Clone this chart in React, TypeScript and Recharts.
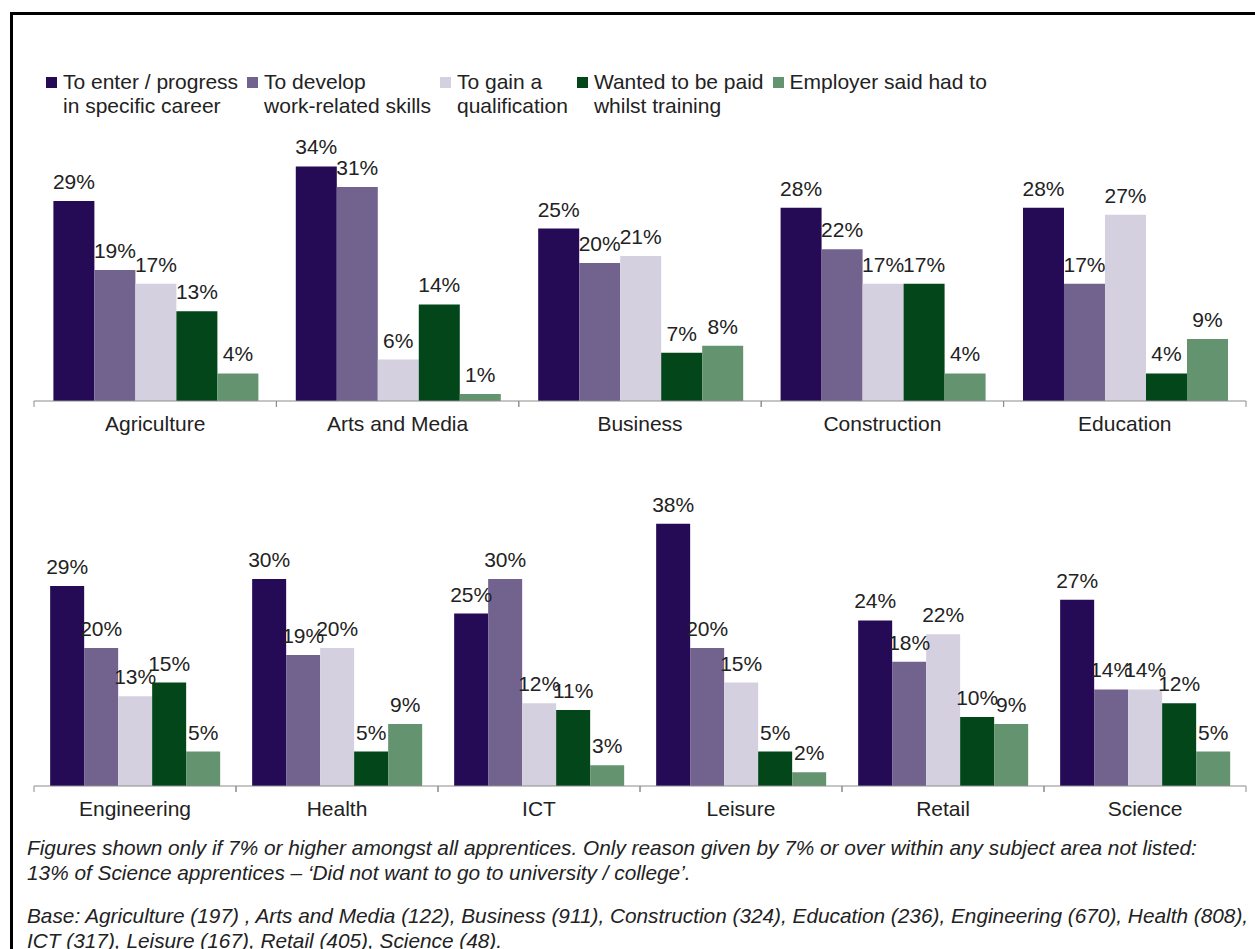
import React from 'react';
import { BarChart, Bar, XAxis, YAxis, LabelList } from 'recharts';

const topCategories = ['Agriculture', 'Arts and Media', 'Business', 'Construction', 'Education'];
const bottomCategories = ['Engineering', 'Health', 'ICT', 'Leisure', 'Retail', 'Science'];

const seriesNames = [
  'To enter / progress\nin specific career',
  'To develop\nwork-related skills',
  'To gain a\nqualification',
  'Wanted to be paid\nwhilst training',
  'Employer said had to',
];
const seriesKeys = ['career', 'skills', 'qualification', 'paid', 'employer'];
const seriesColors = ['#250A55', '#72628E', '#D5D0E0', '#02461A', '#649370'];

const careerTop = [29, 34, 25, 28, 28];
const skillsTop = [19, 31, 20, 22, 17];
const qualificationTop = [17, 6, 21, 17, 27];
const paidTop = [13, 14, 7, 17, 4];
const employerTop = [4, 1, 8, 4, 9];

const careerBottom = [29, 30, 25, 38, 24, 27];
const skillsBottom = [20, 19, 30, 20, 18, 14];
const qualificationBottom = [13, 20, 12, 15, 22, 14];
const paidBottom = [15, 5, 11, 5, 10, 12];
const employerBottom = [5, 9, 3, 2, 9, 5];

const footnoteLines = [
  'Figures shown only if 7% or higher amongst all apprentices. Only reason given by 7% or over within any subject area not listed:',
  '13% of Science apprentices \u2013 \u2018Did not want to go to university / college\u2019.',
];
const baseLines = [
  'Base: Agriculture (197) , Arts and Media (122), Business (911), Construction (324), Education (236), Engineering (670), Health (808),',
  'ICT (317), Leisure (167), Retail (405), Science (48).',
];

const buildRows = (cats: string[], series: number[][]) =>
  cats.map((name, i) => {
    const row: Record<string, string | number> = { name };
    seriesKeys.forEach((k, j) => {
      row[k] = series[j][i];
    });
    return row;
  });

const topData = buildRows(topCategories, [careerTop, skillsTop, qualificationTop, paidTop, employerTop]);
const bottomData = buildRows(bottomCategories, [careerBottom, skillsBottom, qualificationBottom, paidBottom, employerBottom]);

const FONT = '"Liberation Sans", Arial, sans-serif';
const TEXT = '#222222';
const AXIS = '#8c8c8c';
const FS = 21;
const CHART_W = 1255;
const LEFT = 34;
const RIGHT = 9;
const PLOT_W = CHART_W - LEFT - RIGHT;

const CategoryTick = (props: any) => {
  const { x, y, payload, band } = props;
  return (
    <g>
      <line x1={x - band / 2} x2={x - band / 2} y1={y} y2={y + 6} stroke={AXIS} />
      <line x1={x + band / 2} x2={x + band / 2} y1={y} y2={y + 6} stroke={AXIS} />
      <text x={x} y={y + 30} textAnchor="middle" fill={TEXT} fontSize={FS} fontFamily={FONT}>
        {payload.value}
      </text>
    </g>
  );
};

const Panel = ({ data, top }: { data: Record<string, string | number>[]; top: number }) => {
  const band = PLOT_W / data.length;
  return (
    <div style={{ position: 'absolute', left: 0, top }}>
      <BarChart
        width={CHART_W}
        height={441}
        data={data}
        margin={{ top: 125, right: RIGHT, bottom: 0, left: LEFT }}
        barCategoryGap="8%"
        barGap={0}
      >
        <XAxis
          dataKey="name"
          height={40}
          tickSize={0}
          tickMargin={0}
          axisLine={{ stroke: AXIS }}
          tickLine={false}
          interval={0}
          tick={(p: any) => <CategoryTick {...p} band={band} />}
        />
        <YAxis hide domain={[0, 40]} />
        {seriesKeys.map((k, i) => (
          <Bar key={k} dataKey={k} fill={seriesColors[i]} isAnimationActive={false}>
            <LabelList
              dataKey={k}
              position="top"
              offset={12}
              formatter={(v: any) => `${v}%`}
              style={{ fill: TEXT, fontSize: FS, fontFamily: FONT }}
            />
          </Bar>
        ))}
      </BarChart>
    </div>
  );
};

const LegendBlock = () => (
  <div
    style={{
      position: 'absolute',
      left: 46,
      top: 70,
      display: 'flex',
      gap: 9,
      fontFamily: FONT,
      fontSize: FS,
      lineHeight: '24px',
      color: TEXT,
    }}
  >
    {seriesNames.map((n, i) => (
      <div key={n} style={{ display: 'flex', alignItems: 'flex-start' }}>
        <div style={{ width: 11, height: 11, background: seriesColors[i], marginTop: 7, marginRight: 6 }} />
        <div style={{ whiteSpace: 'pre' }}>{n}</div>
      </div>
    ))}
  </div>
);

export default function App() {
  return (
    <div
      style={{
        position: 'absolute',
        left: 0,
        top: 0,
        width: 1255,
        height: 949,
        overflow: 'hidden',
        background: '#fff',
      }}
    >
      <div
        style={{
          position: 'absolute',
          left: 10,
          top: 12,
          width: 1300,
          height: 1000,
          border: '3px solid #000',
        }}
      />
      <LegendBlock />
      <Panel data={topData} top={0} />
      <Panel data={bottomData} top={385} />
      <div
        style={{
          position: 'absolute',
          left: 27,
          top: 835,
          fontFamily: FONT,
          fontStyle: 'italic',
          fontSize: 20.8,
          lineHeight: '25px',
          color: TEXT,
          whiteSpace: 'nowrap',
        }}
      >
        {footnoteLines.map((l) => (
          <div key={l}>{l}</div>
        ))}
        <div style={{ height: 18 }} />
        {baseLines.map((l) => (
          <div key={l}>{l}</div>
        ))}
      </div>
    </div>
  );
}
